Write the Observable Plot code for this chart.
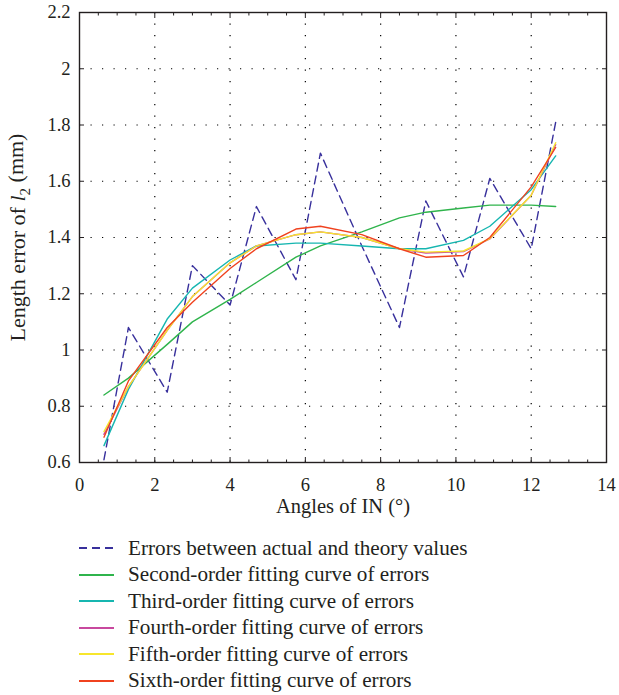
<!DOCTYPE html>
<html><head><meta charset="utf-8">
<script src="https://cdn.jsdelivr.net/npm/d3@7"></script>
<script src="https://cdn.jsdelivr.net/npm/@observablehq/plot@0.6"></script>
<style>
html,body{margin:0;padding:0;background:#fff;}
body{font-family:"Liberation Serif","Times New Roman",serif;color:#231f20;width:619px;}
svg text{font-family:"Liberation Serif","Times New Roman",serif !important;font-variant:normal !important;}
#legend{padding-top:15px;padding-left:79px;}
.row{display:flex;align-items:center;height:26.5px;font-size:21.2px;white-space:nowrap;}
.row svg{margin-right:14px;flex:none;}
</style></head><body>
<div id="chart"></div>
<div id="legend"></div>
<script>
// ---- data ----
const angles  = [0.65, 1.3, 2.33, 3.0, 4.0, 4.7, 5.75, 6.4, 7.5, 8.5, 9.2, 10.2, 10.9, 12.0, 12.65];
const errors  = [0.61, 1.08, 0.85, 1.30, 1.16, 1.51, 1.25, 1.70, 1.37, 1.08, 1.53, 1.26, 1.61, 1.36, 1.81];
const second  = [0.84, 0.90, 1.02, 1.10, 1.18, 1.24, 1.33, 1.37, 1.42, 1.47, 1.49, 1.505, 1.515, 1.515, 1.51];
const third   = [0.66, 0.86, 1.11, 1.22, 1.32, 1.37, 1.38, 1.38, 1.37, 1.36, 1.36, 1.39, 1.44, 1.57, 1.69];
const fourth  = [0.70, 0.87, 1.07, 1.19, 1.31, 1.37, 1.41, 1.42, 1.40, 1.36, 1.345, 1.35, 1.395, 1.55, 1.73];
const fifth   = [0.71, 0.87, 1.07, 1.19, 1.31, 1.37, 1.41, 1.42, 1.40, 1.36, 1.348, 1.352, 1.396, 1.55, 1.737];
const sixth   = [0.69, 0.89, 1.08, 1.17, 1.29, 1.36, 1.43, 1.44, 1.41, 1.36, 1.33, 1.336, 1.40, 1.58, 1.72];

const seriesNames = [
  "Errors between actual and theory values",
  "Second-order fitting curve of errors",
  "Third-order fitting curve of errors",
  "Fourth-order fitting curve of errors",
  "Fifth-order fitting curve of errors",
  "Sixth-order fitting curve of errors"
];
const seriesValues = [errors, second, third, fourth, fifth, sixth];
const seriesColors = ["#38309c", "#2fb44c", "#16b6b0", "#c8489e", "#f7e62c", "#f0421f"];
const seriesDash   = ["8,5", null, null, null, null, null];

const xTicks = [0, 2, 4, 6, 8, 10, 12, 14];
const xMinor = [0.5,1,1.5,2.5,3,3.5,4.5,5,5.5,6.5,7,7.5,8.5,9,9.5,10.5,11,11.5,12.5,13,13.5];
const yTicks = [0.6, 0.8, 1, 1.2, 1.4, 1.6, 1.8, 2, 2.2];
const xGrid = [2, 4, 6, 8, 10, 12];
const yGrid = [0.8, 1, 1.2, 1.4, 1.6, 1.8, 2];
const xLabel = "Angles of IN (°)";
const yLabel = "Length error of l2 (mm)";

const ink = "#231f20";
const blank = () => "";
const serif = '"Liberation Serif", "Times New Roman", serif';

const chart = Plot.plot({
  width: 619,
  height: 520,
  marginLeft: 79,
  marginRight: 13,
  marginTop: 12,
  marginBottom: 58,
  style: {fontFamily: serif, color: ink, background: "#fff"},
  x: {domain: [0, 14]},
  y: {domain: [0.6, 2.2]},
  marks: [
    Plot.gridX({ticks: xGrid, stroke: "#000", strokeOpacity: 1, strokeWidth: 1.2, strokeDasharray: "1.2,10.3"}),
    Plot.gridY({ticks: yGrid, stroke: "#000", strokeOpacity: 1, strokeWidth: 1.2, strokeDasharray: "1.2,10.3"}),
    ...seriesValues.map((vals, i) => Plot.line(vals, {
      x: angles, y: d => d,
      stroke: seriesColors[i], strokeWidth: 1.4,
      strokeDasharray: seriesDash[i] || undefined
    })),
    Plot.frame({stroke: ink, strokeWidth: 1.4}),
    Plot.axisX({ticks: xTicks, tickSize: 0, tickPadding: 15, fontSize: 18.5, tickFormat: d => String(d),
      fontFamily: serif, label: xLabel, labelAnchor: "center", labelOffset: 50, labelArrow: "none"}),
    Plot.axisX({ticks: xTicks, tickSize: -5, tickFormat: blank, label: null, stroke: ink}),
    Plot.axisX({ticks: xMinor, tickSize: -2.5, tickFormat: blank, label: null, stroke: ink}),
    Plot.axisX({anchor: "top", ticks: xTicks, tickSize: -5, tickFormat: blank, label: null, stroke: ink}),
    Plot.axisX({anchor: "top", ticks: xMinor, tickSize: -2.5, tickFormat: blank, label: null, stroke: ink}),
    Plot.axisY({ticks: yTicks, tickSize: 0, tickPadding: 9, fontSize: 18.5, tickFormat: d => String(d),
      fontFamily: serif, label: yLabel, labelAnchor: "center", labelOffset: 70, labelArrow: "none"}),
    Plot.axisY({ticks: yTicks, tickSize: -5, tickFormat: blank, label: null, stroke: ink}),
    Plot.axisY({anchor: "right", ticks: yTicks, tickSize: -5, tickFormat: blank, label: null, stroke: ink})
  ]
});
document.getElementById("chart").appendChild(chart);

// force serif font on all texts; style axis titles, add italic l with subscript 2
d3.select(chart).selectAll("g").style("font-variant", "normal");
d3.select(chart).selectAll("text").style("font-family", serif).style("font-variant", "normal").each(function() {
  const t = this.textContent.replace(/\s*[→↑]\s*$/, "");
  if (t === xLabel) {
    d3.select(this).text(xLabel).attr("font-size", 20.5).style("font-size", "20.5px");
  } else if (t === yLabel) {
    const el = d3.select(this).attr("font-size", 22).style("font-size", "22px");
    el.text(null);
    el.append("tspan").text("Length error of ");
    el.append("tspan").attr("font-style", "italic").text("l");
    el.append("tspan").attr("font-size", 15).attr("dy", "0.3em").text("2");
    el.append("tspan").attr("dy", "-0.3em").text(" (mm)");
  }
});

// legend
const legend = d3.select("#legend");
seriesNames.forEach((name, i) => {
  const row = legend.append("div").attr("class", "row");
  const s = row.append("svg").attr("width", 35).attr("height", 10);
  s.append("line").attr("x1", 0).attr("x2", 35).attr("y1", 5).attr("y2", 5)
    .attr("stroke", seriesColors[i]).attr("stroke-width", 1.8)
    .attr("stroke-dasharray", seriesDash[i]);
  row.append("span").text(name);
});
</script>
</body></html>
